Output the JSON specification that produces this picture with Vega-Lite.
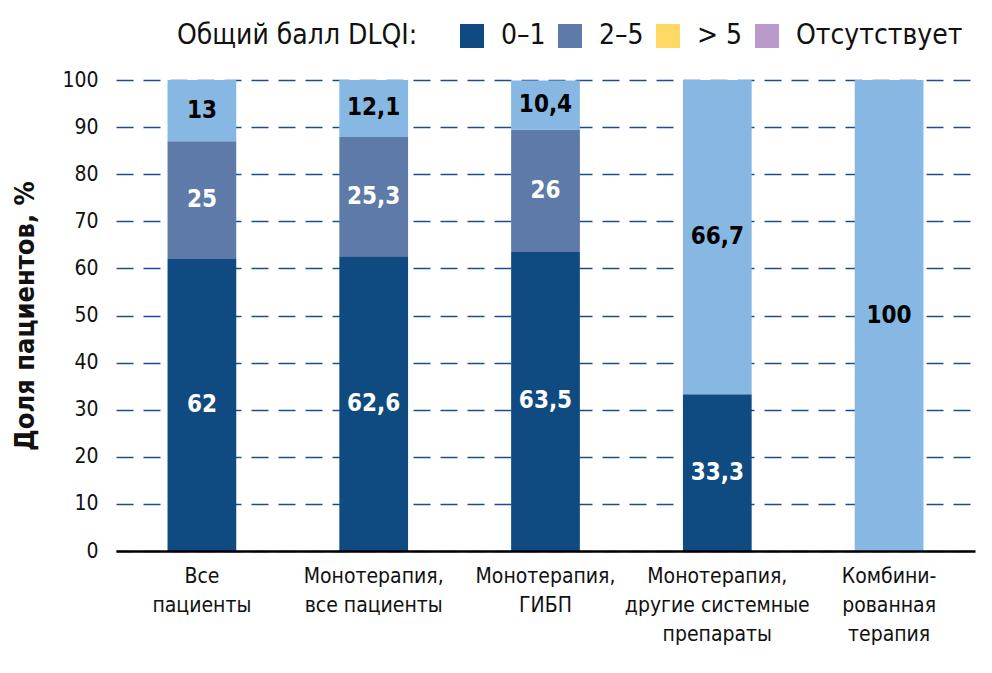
{
  "$schema": "https://vega.github.io/schema/vega-lite/v6.json",
  "width": 859,
  "height": 471,
  "autosize": {"type": "none"},
  "padding": {"left": 116, "top": 80, "right": 17, "bottom": 122},
  "background": "white",
  "config": {
    "locale": {"number": {"decimal": ",", "thousands": " ", "grouping": [3], "currency": ["", ""]}},
    "font": "DejaVu Sans Condensed, sans-serif",
    "view": {"stroke": null}
  },
  "data": {
    "values": [
      {"group": "Все|пациенты", "score": "0–1", "value": 62},
      {"group": "Все|пациенты", "score": "2–5", "value": 25},
      {"group": "Все|пациенты", "score": "> 5", "value": 13},
      {"group": "Монотерапия,|все пациенты", "score": "0–1", "value": 62.6},
      {"group": "Монотерапия,|все пациенты", "score": "2–5", "value": 25.3},
      {"group": "Монотерапия,|все пациенты", "score": "> 5", "value": 12.1},
      {"group": "Монотерапия,|ГИБП", "score": "0–1", "value": 63.5},
      {"group": "Монотерапия,|ГИБП", "score": "2–5", "value": 26},
      {"group": "Монотерапия,|ГИБП", "score": "> 5", "value": 10.4},
      {"group": "Монотерапия,|другие системные|препараты", "score": "0–1", "value": 33.3},
      {"group": "Монотерапия,|другие системные|препараты", "score": "> 5", "value": 66.7},
      {"group": "Комбини-|рованная|терапия", "score": "> 5", "value": 100}
    ]
  },
  "encoding": {
    "x": {
      "field": "group",
      "type": "nominal",
      "sort": null,
      "scale": {"paddingInner": 0.6, "paddingOuter": 0.3},
      "axis": {
        "title": null,
        "labelAngle": 0,
        "labelExpr": "split(datum.label, '|')",
        "labelFontSize": 21,
        "labelColor": "#111111",
        "labelLineHeight": 29,
        "labelPadding": 14,
        "labelBaseline": "top",
        "labelLimit": 0,
        "ticks": false,
        "domainColor": "#000000",
        "domainWidth": 2.5,
        "zindex": 1
      }
    }
  },
  "layer": [
    {
      "mark": {"type": "bar"},
      "encoding": {
        "y": {
          "field": "value",
          "type": "quantitative",
          "stack": "zero",
          "scale": {"domain": [0, 100], "nice": false},
          "axis": {
            "title": "Доля пациентов, %",
            "titleFontSize": 27,
            "titleFontWeight": "bold",
            "titleColor": "#111111",
            "titlePadding": 22,
            "values": [0, 10, 20, 30, 40, 50, 60, 70, 80, 90, 100],
            "labelFontSize": 21,
            "labelColor": "#111111",
            "labelPadding": 18,
            "ticks": false,
            "domain": false,
            "grid": true,
            "gridColor": "#1a4f8a",
            "gridDash": [17, 10],
            "gridWidth": 1.6
          }
        },
        "order": {"field": "score", "sort": "ascending"},
        "color": {
          "field": "score",
          "type": "nominal",
          "condition": {"test": "datum.score === '> 5'", "value": "#86b8e3"},
          "scale": {
            "domain": ["0–1", "2–5", "> 5", "Отсутствует"],
            "range": ["#0f4a80", "#5d7aa8", "#fed966", "#b89bca"]
          },
          "legend": {
            "title": "Общий балл DLQI:",
            "orient": "none",
            "legendX": 61,
            "legendY": -58,
            "direction": "horizontal",
            "titleOrient": "left",
            "titleFontSize": 28,
            "titleFontWeight": "normal",
            "titleColor": "#111111",
            "titlePadding": 40,
            "titleBaseline": "middle",
            "titleLimit": 0,
            "labelFontSize": 28,
            "labelColor": "#111111",
            "labelOffset": 15,
            "labelLimit": 0,
            "columnPadding": 10,
            "symbolType": "square",
            "symbolSize": 576,
            "symbolStrokeWidth": 0,
            "symbolOpacity": 1
          }
        }
      }
    },
    {
      "transform": [
        {"stack": "value", "groupby": ["group"], "sort": [{"field": "score"}], "as": ["y0", "y1"]},
        {"calculate": "(datum.y0 + datum.y1) / 2", "as": "mid"}
      ],
      "mark": {"type": "text", "fontSize": 24, "fontWeight": "bold", "baseline": "middle", "align": "center"},
      "encoding": {
        "y": {"field": "mid", "type": "quantitative"},
        "text": {"field": "value", "type": "quantitative", "format": ".1~f"},
        "color": {
          "condition": {"test": "datum.score === '> 5'", "value": "#000000"},
          "value": "#ffffff"
        }
      }
    }
  ]
}
